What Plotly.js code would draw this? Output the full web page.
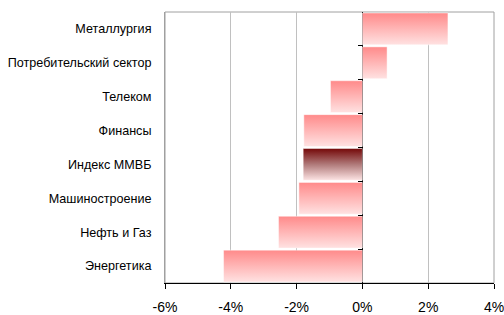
<!DOCTYPE html>
<html><head><meta charset="utf-8">
<script src="https://cdn.plot.ly/plotly-3.0.1.min.js"></script>
<style>body{margin:0;padding:0;background:#fff}#c{width:504px;height:315px}</style>
</head><body><div id="c"></div>
<script>
const categories = ["Энергетика","Нефть и Газ","Машиностроение","Индекс ММВБ","Финансы","Телеком","Потребительский сектор","Металлургия"];
const values = [-4.22, -2.55, -1.93, -1.8, -1.78, -0.97, 0.75, 2.6];
const highlight = "Индекс ММВБ";
const xTicks = [-6, -4, -2, 0, 2, 4];

const half = 0.47;
const traces = categories.map((c, i) => {
  const v = values[i];
  const dark = c === highlight;
  return {
    type: 'scatter', mode: 'lines',
    x: [0, v, v, 0, 0],
    y: [i - half, i - half, i + half, i + half, i - half],
    fill: 'toself',
    line: {width: 0.5, color: 'rgba(255,255,255,0.9)'},
    fillgradient: {
      type: 'vertical',
      colorscale: dark ? [[0, '#fde4e4'], [0.5, '#b07a7a'], [1, '#740808']]
                       : [[0, '#ffe2e2'], [1, '#ff8a8a']]
    },
    hoverinfo: 'skip', showlegend: false
  };
});
traces.push({type:'scatter', x:[0], y:[0], yaxis:'y2', mode:'markers', marker:{opacity:0}, hoverinfo:'skip', showlegend:false});

const bounds = categories.slice(0, -1).map((c, i) => i + 0.5);

const layout = {
  width: 504, height: 315,
  margin: {l: 165, r: 10, t: 12, b: 32},
  paper_bgcolor: '#fff', plot_bgcolor: '#fff',
  font: {family: '"Liberation Sans Narrow", "Arial Narrow", "Liberation Sans", Arial, sans-serif', size: 12.6, color: '#000'},
  xaxis: {
    range: [-6, 4], tickvals: xTicks, ticktext: xTicks.map(t => t + '%'),
    showgrid: true, gridcolor: '#c0c0c0', gridwidth: 1,
    zeroline: true, zerolinecolor: '#000', zerolinewidth: 1,
    showline: true, linecolor: '#000', linewidth: 1,
    ticks: 'outside', ticklen: 5, tickcolor: '#000',
    tickfont: {size: 14, family: '"Liberation Sans Narrow", "Liberation Sans", Arial, sans-serif'},
    ticklabelstandoff: 6, ticklabeloverflow: 'allow',
    fixedrange: true
  },
  yaxis: {
    range: [-0.5, 7.5], tickvals: categories.map((c, i) => i), ticktext: categories,
    showgrid: false, zeroline: false, ticks: '', ticklen: 0,
    showline: true, linecolor: '#a0a0a0', mirror: false,
    tickfont: {size: 12.6}, ticklabelstandoff: 10, fixedrange: true
  },
  yaxis2: {
    overlaying: 'y', anchor: 'free', position: 0.6, side: 'left',
    range: [-0.5, 7.5], tickvals: bounds, showticklabels: false,
    ticks: 'outside', ticklen: 4, tickcolor: '#000',
    showgrid: false, zeroline: false, showline: false, fixedrange: true
  },
  shapes: [{type: 'rect', xref: 'paper', yref: 'paper', x0: 0, x1: 1, y0: 0, y1: 1,
    line: {color: '#a0a0a0', width: 1}, layer: 'below'}]
};
Plotly.newPlot('c', traces, layout, {displayModeBar: false, staticPlot: true});
</script></body></html>
